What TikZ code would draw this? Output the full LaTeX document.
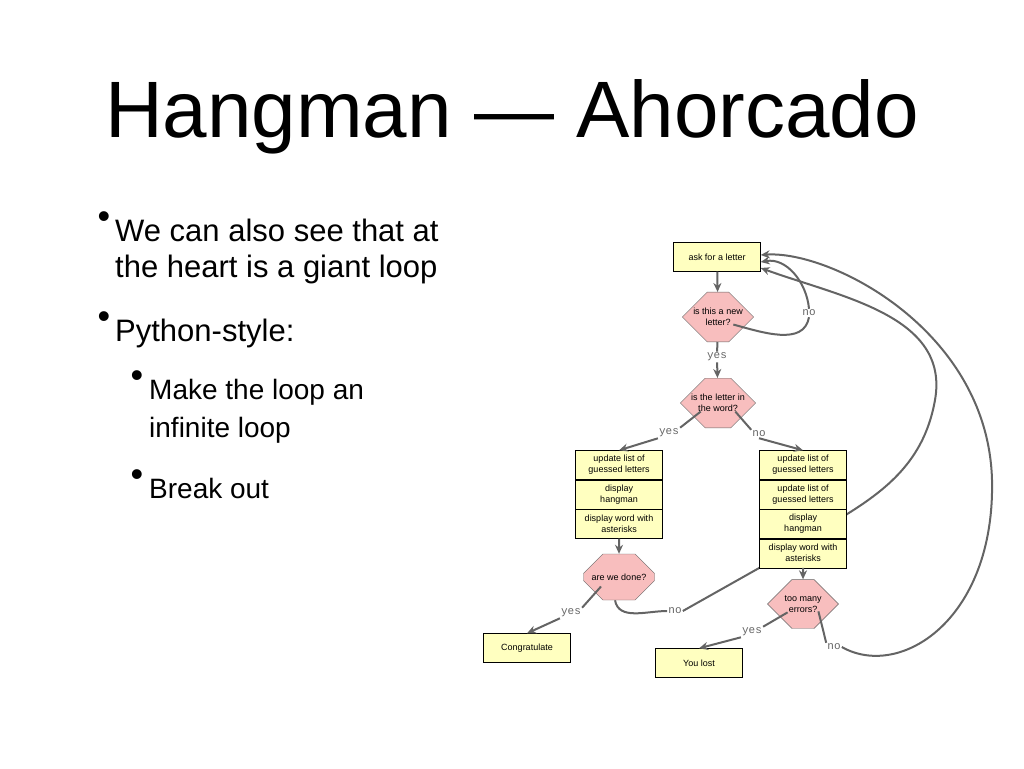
\documentclass[tikz,border=0pt]{standalone}
\usepackage{fontspec}
\setmainfont{Liberation Sans}
\newfontfamily\labfont{Liberation Mono}
\usetikzlibrary{shapes.misc,arrows.meta,backgrounds}

\definecolor{boxyellow}{RGB}{255,255,192}
\definecolor{askpink}{RGB}{248,190,190}
\definecolor{flowgray}{RGB}{100,100,100}

\tikzset{
    stepbox/.style={draw=black, fill=boxyellow, minimum width=87, minimum height=29, inner sep=1, align=center, font=\fontsize{9}{11}\selectfont},
    question/.style={chamfered rectangle, chamfered rectangle xsep=15, chamfered rectangle ysep=15, draw=flowgray, fill=askpink, minimum width=71, minimum height=46, inner sep=1, align=center, font=\fontsize{9}{11}\selectfont},
    flow/.style={draw=flowgray, line width=2, -{Stealth[length=9,width=8]}},
    answer/.style={text=flowgray, font=\labfont\fontsize{11}{12}\selectfont, inner sep=1},
    dot/.style={font=\fontsize{36}{36}\selectfont, inner sep=0},
    slidetext/.style={anchor=base west, font=\fontsize{31}{36}\selectfont, inner sep=0},
    subtext/.style={anchor=base west, font=\fontsize{28}{33}\selectfont, inner sep=0}
}

\begin{document}
\begin{tikzpicture}[x=1pt, y=-1pt]

    \useasboundingbox (0,0) rectangle (1024,768);

    % Title and bullets
    \node[anchor=base, font=\fontsize{80}{90}\selectfont, inner sep=0] (title) at (512,137) {Hangman — Ahorcado};
    \node[dot] (b1) at (104,220) {\textbullet};
    \node[slidetext] (t1) at (115,241) {We can also see that at};
    \node[slidetext] (t2) at (115,277) {the heart is a giant loop};
    \node[dot] (b2) at (104,320) {\textbullet};
    \node[slidetext] (t3) at (115,341) {Python-style:};
    \node[dot] (b3) at (137,379) {\textbullet};
    \node[subtext] (t4) at (149,399) {Make the loop an};
    \node[subtext] (t5) at (149,437) {infinite loop};
    \node[dot] (b4) at (137,478) {\textbullet};
    \node[subtext] (t6) at (149,498) {Break out};

    % Flow chart nodes
    \node[stepbox] (ask) at (717,257) {ask for a letter};
    \node[question] (new) at (718,317) {is this a new\\letter?};
    \node[question] (inword) at (718,403) {is the letter in\\the word?};

    \node[stepbox] (l1) at (619,465) {update list of\\guessed letters};
    \node[stepbox, anchor=north] (l2) at (l1.south) {display\\hangman};
    \node[stepbox, anchor=north] (l3) at (l2.south) {display word with\\asterisks};

    \node[stepbox] (r1) at (803,465) {update list of\\guessed letters};
    \node[stepbox, anchor=north] (r2) at (r1.south) {update list of\\guessed letters};
    \node[stepbox, anchor=north] (r3) at (r2.south) {display\\hangman};
    \node[stepbox, anchor=north] (r4) at (r3.south) {display word with\\asterisks};

    \node[question] (done) at (619,577) {are we done?};
    \node[question] (errors) at (803,604) {too many\\errors?};

    \node[stepbox] (win) at (527,648) {Congratulate};
    \node[stepbox] (lost) at (699,663) {You lost};

    % Answer labels
    \node[answer] (yes1) at (717,357) {yes};
    \node[answer] (no1) at (809,313) {no};
    \node[answer] (yes2) at (669,433) {yes};
    \node[answer] (no2) at (759,434) {no};
    \node[answer] (yes3) at (571,613) {yes};
    \node[answer] (no3) at (675,611) {no};
    \node[answer] (yes4) at (752,632) {yes};
    \node[answer] (no4) at (834,647) {no};

    % Connectors
    \draw[flow] (ask) -- (new);
    \draw[flow, -] (new) -- (yes1);
    \draw[flow] (yes1) -- (inword);
    \draw[flow, -] (inword.south west) ++(8,-4) -- (yes2.north east);
    \draw[flow] (yes2.south west) -- (l1.north);
    \draw[flow, -] (inword.south east) ++(-8,-4) -- (no2.north west);
    \draw[flow] (no2.south) -- (r1.north);
    \draw[flow] (l3) -- (done);
    \draw[flow] (r4) -- (errors);
    \draw[flow, -] (done.south west) ++(8,-4) -- (yes3.north east);
    \draw[flow] (yes3.south west) -- (win.north);
    \draw[flow, -] (errors.south west) ++(8,-4) -- (yes4.north east);
    \draw[flow] (yes4.south west) -- (lost.north);

    % Loops back to the top
    \draw[flow, -] (new.south east) ++(-8,-5) to[out=-15, in=-100] (no1.south);
    \draw[flow] (no1.north) to[out=95, in=10] (ask.east |- 0,262);
    \begin{scope}[on background layer]
        \draw[flow, -] (done.south) ++(-4,0) to[out=-80, in=180] (no3.west);
        \draw[flow] (no3.east) -- (r4.south west) to[out=35, in=-100] (935,400) to[out=80, in=-20] (ask.east |- 0,268);
    \end{scope}
    \draw[flow, -] (errors.south east) ++(-8,-5) -- (no4.north west);
    \draw[flow] (no4.east) .. controls (900,680) and (995,620) .. (992,480) .. controls (988,330) and (830,250) .. (ask.east |- 0,255);

\end{tikzpicture}
\end{document}
